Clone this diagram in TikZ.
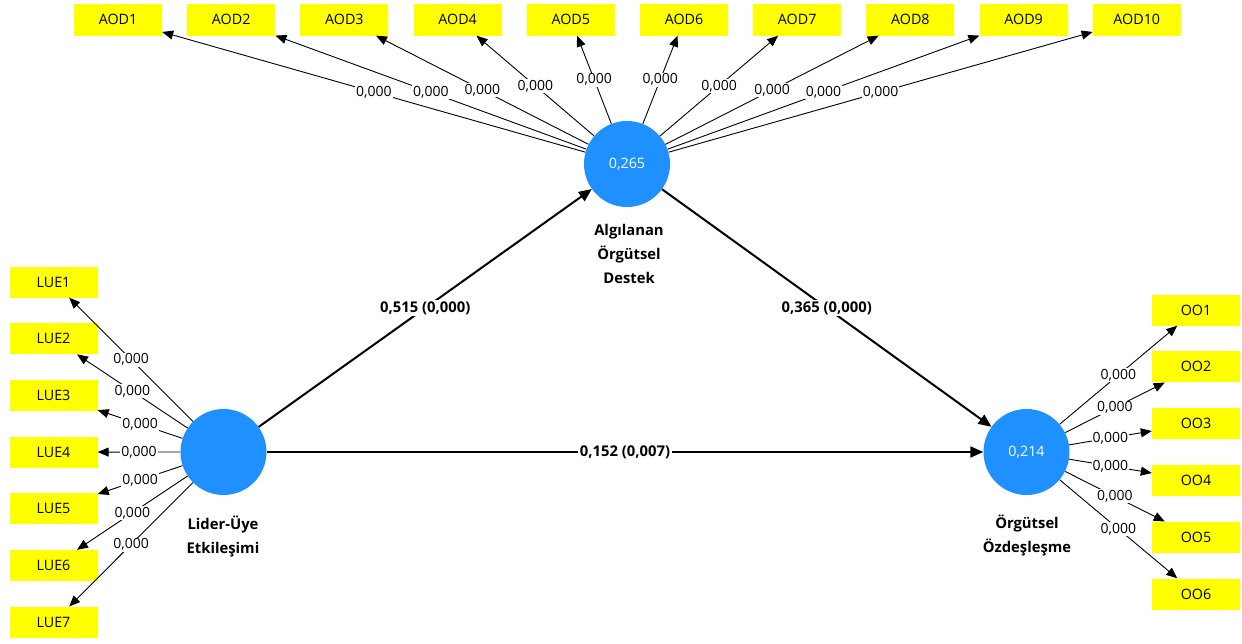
\documentclass[tikz,border=0pt]{standalone}
\usepackage{fontspec}
\setmainfont{Open Sans}
\usetikzlibrary{arrows.meta}
\definecolor{lvblue}{RGB}{30,144,255}
\definecolor{indyellow}{RGB}{255,255,0}
\begin{document}
\begin{tikzpicture}[x=1pt,y=-1pt,
  ind/.style={fill=indyellow, minimum width=88pt, minimum height=31pt, inner sep=0pt, font=\fontsize{14.3}{16}\selectfont},
  lv/.style={circle, fill=lvblue, minimum size=86pt, inner sep=0pt, text=white, font=\fontsize{14.3}{16}\selectfont},
  lvname/.style={align=center, font=\fontsize{14.8}{24}\selectfont\bfseries},
  load/.style={-{Triangle[length=11pt,width=9pt]}, line width=0.9pt},
  strong/.style={-{Triangle[length=13pt,width=11pt]}, line width=2pt},
  wl/.style={fill=white, inner sep=1pt, font=\fontsize{14}{16}\selectfont},
  wlb/.style={fill=white, inner sep=1.5pt, font=\fontsize{14.8}{16}\selectfont\bfseries}
]
\useasboundingbox (0,0) rectangle (1242,643);

\node[lv] (aod) at (627,164) {0,265};
\node[lv] (lue) at (223.5,452) {};
\node[lv] (oo) at (1026.5,452) {0,214};

\node[lvname] (aodname) at (629,254) {Algılanan\\Örgütsel\\Destek};
\node[lvname] (luename) at (223,536) {Lider-Üye\\Etkileşimi};
\node[lvname] (ooname) at (1027,535) {Örgütsel\\Özdeşleşme};

\foreach \i in {1,...,10}
  \node[ind, minimum height=32pt] (aod\i) at ({118+113.2*(\i-1)},19.5) {AOD\i};
\foreach \i in {1,...,7}
  \node[ind] (lue\i) at (53.5,{282+56.7*(\i-1)}) {LUE\i};
\foreach \i in {1,...,6}
  \node[ind] (oo\i) at (1196,{310+56.8*(\i-1)}) {OO\i};

\foreach \i in {1,...,10}
  \draw[load] (aod) -- node[wl] {0,000} (aod\i);
\foreach \i in {1,...,7}
  \draw[load] (lue) -- node[wl] {0,000} (lue\i);
\foreach \i in {1,...,6}
  \draw[load] (oo) -- node[wl] {0,000} (oo\i);

\draw[strong] (lue) -- node[wlb] {0,515 (0,000)} (aod);
\draw[strong] (aod) -- node[wlb] {0,365 (0,000)} (oo);
\draw[strong] (lue) -- node[wlb] {0,152 (0,007)} (oo);
\end{tikzpicture}
\end{document}
